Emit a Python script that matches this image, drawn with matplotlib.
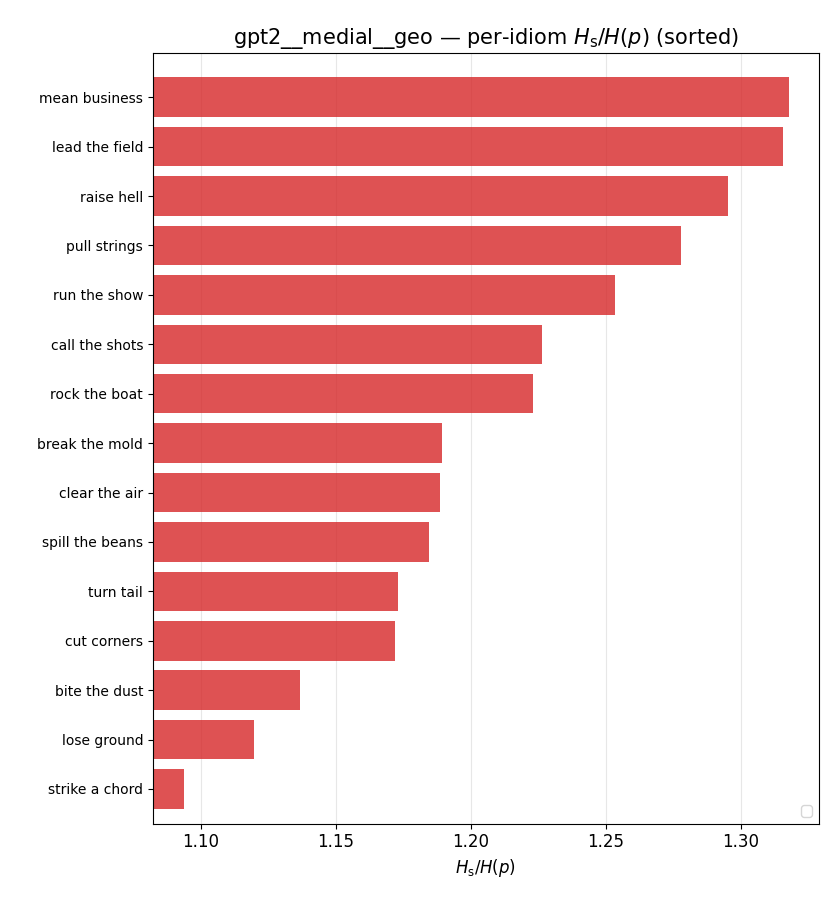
import matplotlib
matplotlib.use("Agg")
import matplotlib.pyplot as plt

idioms = ["mean business", "lead the field", "raise hell", "pull strings", "run the show",
          "call the shots", "rock the boat", "break the mold", "clear the air",
          "spill the beans", "turn tail", "cut corners", "bite the dust",
          "lose ground", "strike a chord"]
ratios = [1.3178, 1.3156, 1.2952, 1.2778, 1.2533, 1.2263, 1.2230, 1.1893, 1.1885,
          1.1844, 1.1730, 1.1719, 1.1367, 1.1196, 1.0937]

fig, ax = plt.subplots(figsize=(8.4, 9.1), dpi=100)
y = list(range(len(idioms)))[::-1]
ax.barh(y, ratios, color="#d62728", alpha=0.8)
ax.set_yticks(y)
ax.set_yticklabels(idioms, fontsize=10)
ax.tick_params(axis="x", labelsize=12)
ax.set_xlim(1.0822, 1.3289)
ax.set_ylim(-0.7, 14.9)
ax.grid(axis="x", alpha=0.3)
ax.set_axisbelow(True)
ax.set_xlabel(r"$H_{\mathrm{s}}/H(p)$", fontsize=12)
ax.set_title(r"gpt2__medial__geo — per-idiom $H_{\mathrm{s}}/H(p)$ (sorted)", fontsize=15)
ax.legend(loc="lower right")
plt.subplots_adjust(left=0.182, right=0.975, top=0.942, bottom=0.095)
plt.savefig("out.png", dpi=100)
